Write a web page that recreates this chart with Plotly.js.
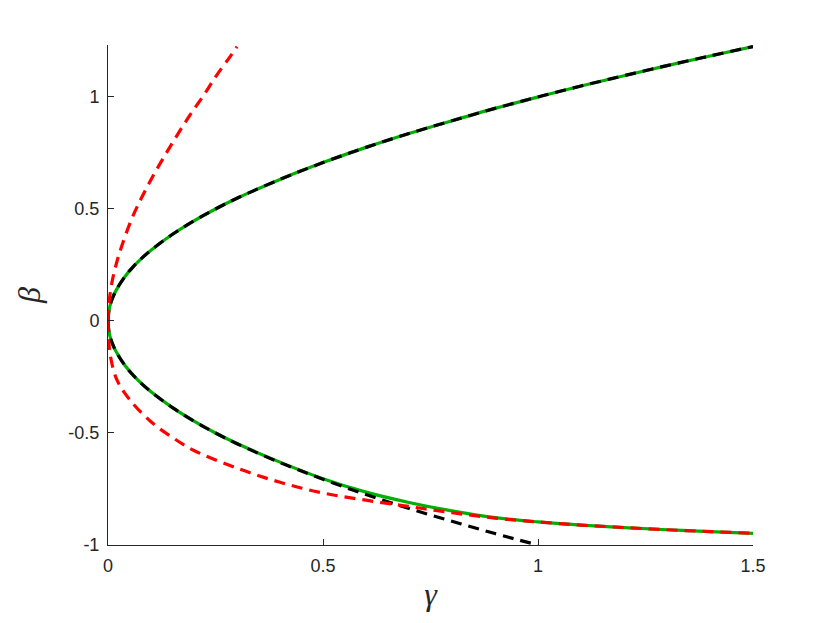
<!DOCTYPE html>
<html>
<head>
<meta charset="utf-8">
<script src="https://cdn.plot.ly/plotly-3.0.1.min.js"></script>
<style>
  body { margin: 0; background: #fff; }
  #myDiv { width: 830px; height: 623px; }
</style>
</head>
<body>
<div id="myDiv"></div>
<script>
// values
var gammaFull = [0, 0.002, 0.005, 0.01, 0.02, 0.04, 0.06, 0.08, 0.1, 0.15, 0.2, 0.25, 0.3, 0.4, 0.5,
  0.6, 0.7, 0.8, 0.9, 1.0, 1.1, 1.2, 1.3, 1.4, 1.5];
var betaUpper = [0, 0.045, 0.071, 0.1, 0.141, 0.2, 0.245, 0.283, 0.316, 0.387, 0.447, 0.5, 0.548, 0.632, 0.707,
  0.775, 0.837, 0.894, 0.949, 1.0, 1.049, 1.095, 1.14, 1.183, 1.225];
var betaGreenLow = [0, -0.045, -0.071, -0.1, -0.141, -0.2, -0.245, -0.283, -0.316, -0.387, -0.447, -0.5, -0.547, -0.63, -0.704,
  -0.764, -0.81, -0.848, -0.878, -0.897, -0.911, -0.922, -0.932, -0.94, -0.948];

var gammaBlackLow = [0, 0.002, 0.005, 0.01, 0.02, 0.04, 0.06, 0.08, 0.1, 0.15, 0.2, 0.25, 0.3, 0.4, 0.5,
  0.6, 0.7, 0.8, 0.9, 1.0];
var betaBlackLow = [0, -0.045, -0.071, -0.1, -0.141, -0.2, -0.245, -0.283, -0.316, -0.387, -0.447, -0.5, -0.548, -0.632, -0.707,
  -0.775, -0.837, -0.894, -0.949, -1.0];

var gammaRedUp = [0, 0.0023, 0.01, 0.02, 0.032, 0.055, 0.078, 0.104, 0.133, 0.161, 0.191, 0.223, 0.253, 0.284, 0.3];
var betaRedUp = [0, 0.08, 0.18, 0.26, 0.335, 0.455, 0.55, 0.645, 0.741, 0.83, 0.92, 1.009, 1.098, 1.18, 1.225];

var gammaRedLow = [0, 0.002, 0.005, 0.02, 0.05, 0.1, 0.15, 0.2, 0.3, 0.4, 0.5, 0.6, 0.7, 0.8, 0.9,
  1.0, 1.1, 1.2, 1.3, 1.4, 1.5];
var betaRedLow = [0, -0.09, -0.15, -0.26, -0.35, -0.45, -0.52, -0.578, -0.657, -0.72, -0.768, -0.8, -0.828, -0.856, -0.88,
  -0.897, -0.911, -0.922, -0.932, -0.94, -0.948];

var xTicks = [0, 0.5, 1, 1.5];
var xTickText = ["0", "0.5", "1", "1.5"];
var yTicks = [-1, -0.5, 0, 0.5, 1];
var yTickText = ["-1", "-0.5", "0", "0.5", "1"];

var green = "rgb(0,176,0)";
var lw = 3.2;

var gUp = { x: gammaFull, y: betaUpper, mode: "lines", type: "scatter",
  line: { color: green, width: lw, shape: "spline" } };
var gLow = { x: gammaFull, y: betaGreenLow, mode: "lines", type: "scatter",
  line: { color: green, width: lw, shape: "spline" } };
var kUp = { x: gammaFull, y: betaUpper, mode: "lines", type: "scatter",
  line: { color: "black", width: lw, dash: "11px,7px", shape: "spline" } };
var kLow = { x: gammaBlackLow, y: betaBlackLow, mode: "lines", type: "scatter",
  line: { color: "black", width: lw, dash: "11px,7px", shape: "spline" } };
var rUp = { x: gammaRedUp, y: betaRedUp, mode: "lines", type: "scatter",
  line: { color: "red", width: lw, dash: "11px,7px", shape: "spline" } };
var rLow = { x: gammaRedLow, y: betaRedLow, mode: "lines", type: "scatter",
  line: { color: "red", width: lw, dash: "11px,7px", shape: "spline" } };

var data = [gUp, gLow, kUp, kLow, rUp, rLow];

var axisFont = { family: "Liberation Sans, Arial, sans-serif", size: 18, color: "#262626" };

var layout = {
  width: 830,
  height: 623,
  showlegend: false,
  paper_bgcolor: "white",
  plot_bgcolor: "white",
  margin: { l: 108, r: 77, t: 45, b: 78 },
  xaxis: {
    range: [0, 1.5],
    tickvals: xTicks,
    ticktext: xTickText,
    ticks: "inside",
    ticklen: 6,
    tickcolor: "#262626",
    showline: true,
    linecolor: "#262626",
    linewidth: 1,
    showgrid: false,
    zeroline: false,
    tickfont: axisFont,
    ticklabelstandoff: 4,
    title: { text: "<i>γ</i>", font: { family: "Liberation Serif, serif", size: 32, color: "#262626" }, standoff: 8 }
  },
  yaxis: {
    range: [-1, 1.232],
    tickvals: yTicks,
    ticktext: yTickText,
    ticks: "inside",
    ticklen: 6,
    tickcolor: "#262626",
    showline: true,
    linecolor: "#262626",
    linewidth: 1,
    showgrid: false,
    zeroline: false,
    tickfont: axisFont,
    ticklabelstandoff: 4,
    title: { text: "<i>β</i>", font: { family: "Liberation Serif, serif", size: 32, color: "#262626" }, standoff: 18 }
  }
};

Plotly.newPlot("myDiv", data, layout, { displayModeBar: false, staticPlot: true });
</script>
</body>
</html>
